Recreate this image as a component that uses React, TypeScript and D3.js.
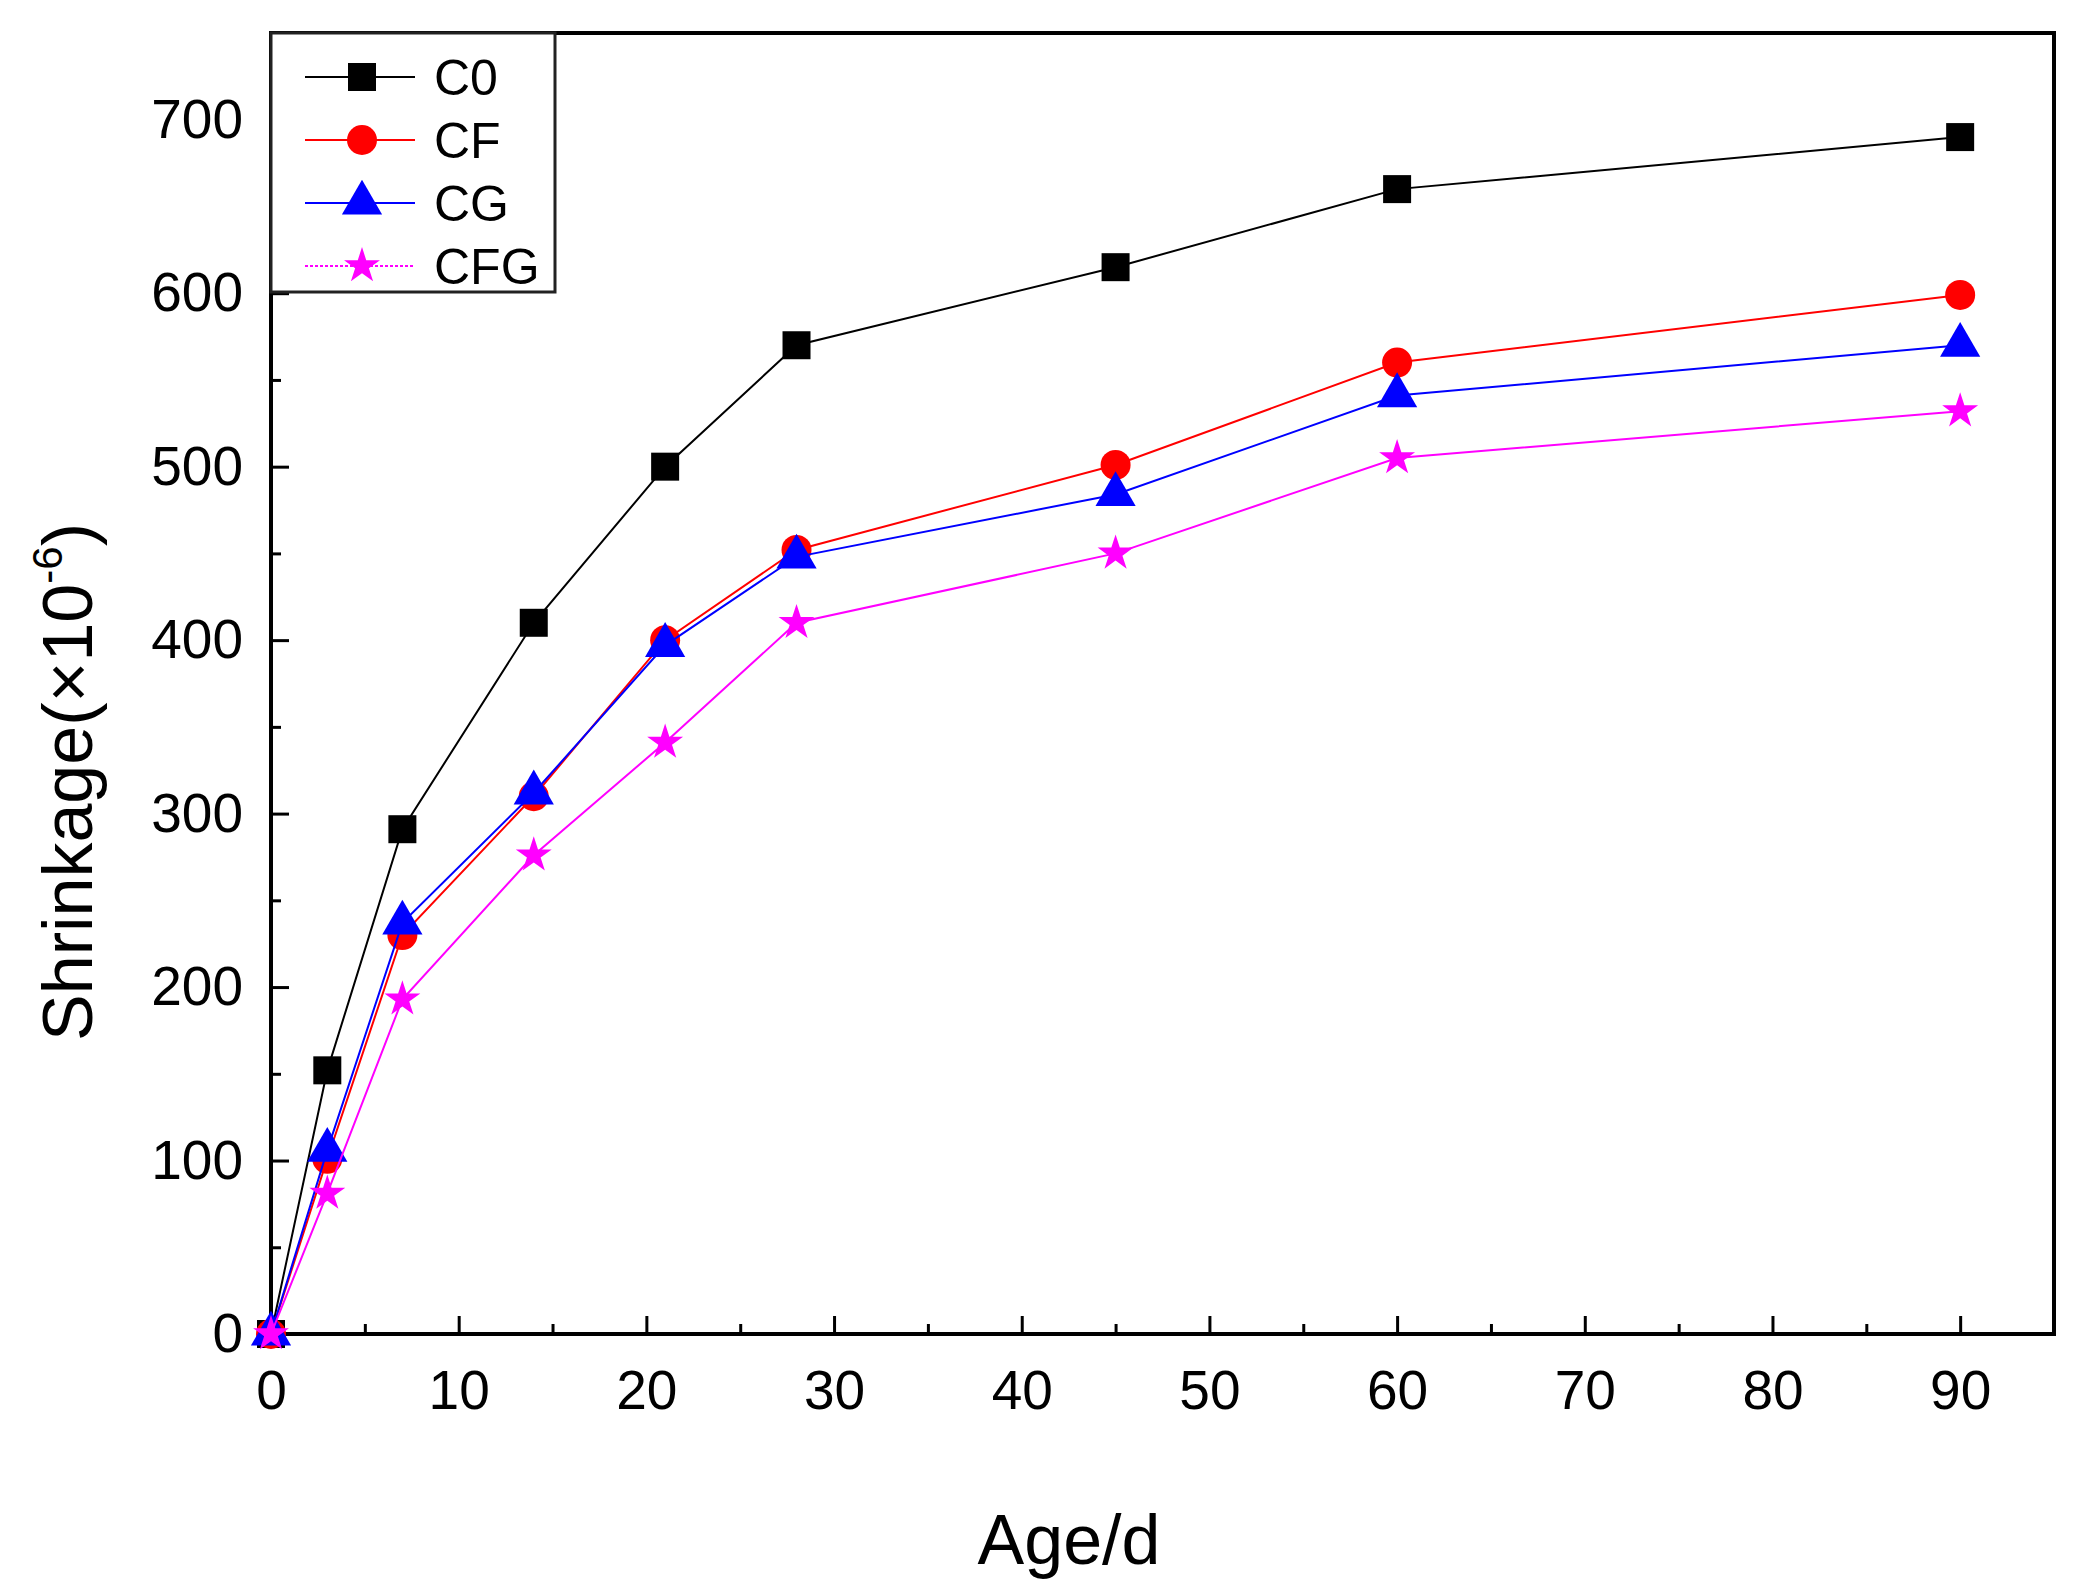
import * as d3 from 'd3';
import { useEffect, useRef } from 'react';

// age in days
const ages = [0, 3, 7, 14, 21, 28, 45, 60, 90];

const seriesNames = ['C0', 'CF', 'CG', 'CFG'];
const c0 = [0, 152, 291, 410, 500, 570, 615, 660, 690];
const cf = [0, 101, 230, 310, 400, 452, 501, 560, 599];
const cg = [0, 106, 237, 312, 397, 448, 484, 541, 570];
const cfg = [0, 81, 193, 276, 341, 410, 450, 505, 532];

const xTicks = [0, 10, 20, 30, 40, 50, 60, 70, 80, 90];
const yTicks = [0, 100, 200, 300, 400, 500, 600, 700];

const colors = ['#000000', '#ff0000', '#0000ff', '#ff00ff'];
const symbols = [d3.symbolSquare, d3.symbolCircle, d3.symbolTriangle, d3.symbolStar];
const symbolSizes = [784, 707, 700, 400];

const W = 2082;
const H = 1591;
const m = { left: 271, right: 2054, top: 33, bottom: 1334 };
const font = 'Liberation Sans, Arial, sans-serif';

export default function App() {
  const ref = useRef<SVGSVGElement>(null);

  useEffect(() => {
    const svg = d3.select(ref.current);
    svg.selectAll('*').remove();

    const x = d3.scaleLinear().domain([0, 95]).range([m.left, m.right]);
    const y = d3.scaleLinear().domain([0, 750]).range([m.bottom, m.top]);

    svg.append('rect').attr('width', W).attr('height', H).attr('fill', '#fff');

    // ticks (inward)
    const gx = svg.append('g').attr('transform', `translate(0,${m.bottom})`);
    gx.call(
      d3.axisBottom(x).tickValues(d3.range(5, 95, 10)).tickSize(-10).tickFormat(() => ''),
    );
    gx.call((g) =>
      g.append('g').call(d3.axisBottom(x).tickValues(xTicks).tickSize(-18).tickPadding(26)),
    );
    gx.selectAll('.domain').remove();
    gx.selectAll('line').attr('stroke', '#000').attr('stroke-width', 3);
    gx.selectAll('text')
      .attr('font-family', font)
      .attr('font-size', 55)
      .attr('fill', '#000')
      .attr('dy', '0.71em')
      .attr('y', 36);

    const gy = svg.append('g').attr('transform', `translate(${m.left},0)`);
    gy.call(
      d3.axisLeft(y).tickValues(d3.range(50, 750, 100)).tickSize(-10).tickFormat(() => ''),
    );
    gy.call((g) =>
      g.append('g').call(d3.axisLeft(y).tickValues(yTicks).tickSize(-18).tickPadding(28)),
    );
    gy.selectAll('.domain').remove();
    gy.selectAll('line').attr('stroke', '#000').attr('stroke-width', 3);
    gy.selectAll('text')
      .attr('font-family', font)
      .attr('font-size', 55)
      .attr('fill', '#000')
      .attr('x', -28);

    // frame
    svg
      .append('rect')
      .attr('x', m.left)
      .attr('y', m.top)
      .attr('width', m.right - m.left)
      .attr('height', m.bottom - m.top)
      .attr('fill', 'none')
      .attr('stroke', '#000')
      .attr('stroke-width', 4);

    const all = [c0, cf, cg, cfg];
    const line = d3
      .line<number>()
      .x((_, i) => x(ages[i]))
      .y((d) => y(d));

    all.forEach((vals, k) => {
      const g = svg.append('g');
      g.append('path')
        .attr('d', line(vals))
        .attr('fill', 'none')
        .attr('stroke', colors[k])
        .attr('stroke-width', 2);
      g.selectAll('path.pt')
        .data(vals)
        .join('path')
        .attr('class', 'pt')
        .attr('d', d3.symbol(symbols[k], symbolSizes[k])())
        .attr('transform', (d, i) => `translate(${x(ages[i])},${y(d)})`)
        .attr('fill', colors[k]);
    });

    // legend
    const lg = svg.append('g');
    lg.append('rect')
      .attr('x', m.left)
      .attr('y', m.top)
      .attr('width', 555 - m.left)
      .attr('height', 292 - m.top)
      .attr('fill', '#fff')
      .attr('stroke', '#222')
      .attr('stroke-width', 3);
    const rows = [77, 140, 203, 266];
    seriesNames.forEach((name, k) => {
      const ry = rows[k];
      lg.append('line')
        .attr('x1', 305)
        .attr('x2', 415)
        .attr('y1', ry)
        .attr('y2', ry)
        .attr('stroke', colors[k])
        .attr('stroke-width', 2)
        .attr('stroke-dasharray', k === 3 ? '3,2' : null);
      lg.append('path')
        .attr('d', d3.symbol(symbols[k], symbolSizes[k])())
        .attr('transform', `translate(362,${ry})`)
        .attr('fill', colors[k]);
      lg.append('text')
        .attr('x', 434)
        .attr('y', ry + 18)
        .attr('font-family', font)
        .attr('font-size', 50)
        .attr('fill', '#000')
        .text(name);
    });

    // axis titles
    svg
      .append('text')
      .attr('x', 1069)
      .attr('y', 1564)
      .attr('text-anchor', 'middle')
      .attr('font-family', font)
      .attr('font-size', 70)
      .attr('fill', '#000')
      .text('Age/d');

    const yt = svg
      .append('text')
      .attr('transform', `translate(92,782) rotate(-90)`)
      .attr('text-anchor', 'middle')
      .attr('font-family', font)
      .attr('font-size', 70)
      .attr('fill', '#000');
    yt.append('tspan').text('Shrinkage(×10');
    yt.append('tspan').attr('font-size', 42).attr('dy', -30).text('-6');
    yt.append('tspan').attr('dy', 30).text(')');
  }, []);

  return (
    <svg
      ref={ref}
      width={W}
      height={H}
      style={{ position: 'absolute', left: 0, top: 0, display: 'block' }}
    />
  );
}
